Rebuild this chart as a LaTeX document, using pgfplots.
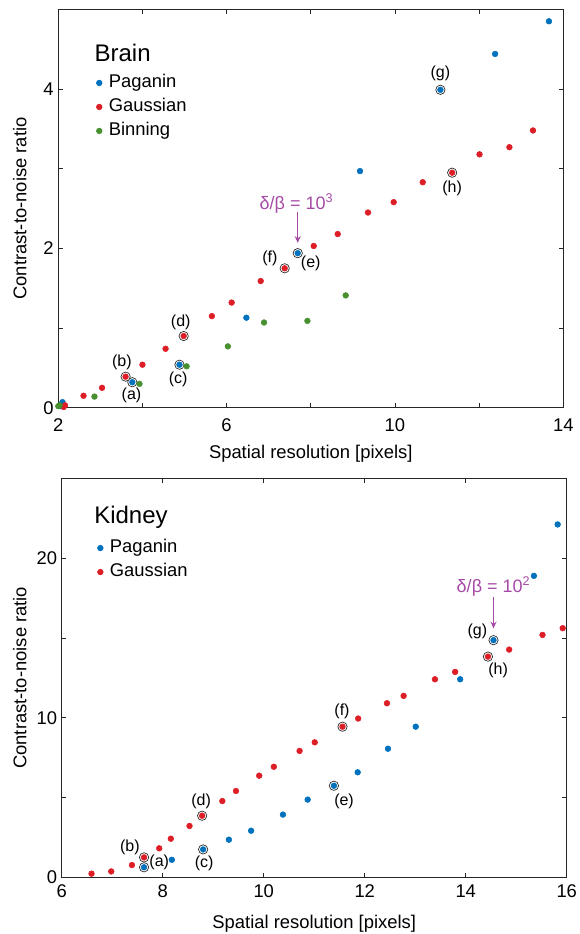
\documentclass[border=0pt]{standalone}
\usepackage{pgfplots}
\pgfplotsset{compat=1.18}
\usepackage{pgfplotstable}
\usepackage{fontspec}
\setmainfont{Liberation Sans}
\usetikzlibrary{arrows.meta}

\definecolor{cblue}{RGB}{0,114,189}
\definecolor{cred}{RGB}{222,30,38}
\definecolor{cgreen}{RGB}{72,145,48}
\definecolor{cpurple}{RGB}{166,74,166}
\definecolor{axgray}{RGB}{38,38,38}

% brain data
\pgfplotstableread{
x y
2.06 0.02
2.08 0.04
2.10 0.07
3.76 0.32
4.88 0.54
6.47 1.13
7.69 1.94
9.17 2.97
11.08 3.99
12.38 4.44
13.66 4.85
}\brainPag
\pgfplotstableread{
x y
2.13 0.01
2.16 0.03
2.60 0.15
3.04 0.25
3.60 0.39
4.00 0.54
4.55 0.74
4.98 0.90
5.65 1.15
6.12 1.32
6.81 1.59
7.38 1.75
8.07 2.03
8.64 2.18
9.36 2.45
9.97 2.58
10.66 2.83
11.36 2.95
12.01 3.18
12.72 3.27
13.28 3.48
}\brainGau
\pgfplotstableread{
x y
2.00 0.02
2.03 0.03
2.86 0.14
3.93 0.30
5.05 0.52
6.03 0.77
6.89 1.07
7.92 1.09
8.83 1.41
}\brainBin
\pgfplotstableread{
x y
3.76 0.32
3.60 0.39
4.88 0.54
4.98 0.90
7.69 1.94
7.38 1.75
11.08 3.99
11.36 2.95
}\brainSel

% kidney data
\pgfplotstableread{
x y
7.63 0.63
8.18 1.10
8.80 1.75
9.31 2.36
9.75 2.92
10.38 3.93
10.87 4.87
11.39 5.74
11.86 6.58
12.46 8.06
13.01 9.44
13.89 12.41
14.55 14.86
15.35 18.89
15.82 22.11
}\kidPag
\pgfplotstableread{
x y
6.59 0.23
6.98 0.37
7.39 0.77
7.63 1.25
7.93 1.82
8.16 2.42
8.53 3.22
8.78 3.86
9.18 4.78
9.45 5.41
9.91 6.37
10.20 6.93
10.71 7.92
11.01 8.46
11.56 9.44
11.87 9.95
12.44 10.91
12.77 11.37
13.39 12.41
13.79 12.87
14.44 13.83
14.86 14.27
15.52 15.19
15.92 15.61
}\kidGau
\pgfplotstableread{
x y
7.63 0.63
7.63 1.25
8.80 1.75
8.78 3.86
11.39 5.74
11.56 9.44
14.55 14.86
14.44 13.83
}\kidSel

\pgfplotsset{
  chart/.style={
    scale only axis, width=378.75pt,
    axis line style={axgray, line width=0.6pt},
    tick style={axgray, line width=0.6pt},
    major tick length=3.5pt,
    tick align=inside,
    /pgf/number format/assume math mode=true,
    every tick label/.append style={font=\fontsize{13.8}{16}\selectfont, text=black},
    label style={font=\fontsize{13.8}{16}\selectfont},
    clip=false,
    legend cell align=left,
    legend style={draw=none, fill=none, inner sep=0pt, row sep=3pt,
      font=\fontsize{13.8}{16}\selectfont,
      nodes={text height=10pt, text depth=3pt, inner sep=1pt},
      /tikz/every odd column/.append style={column sep=4pt}},
    legend image code/.code={\draw[mark repeat=2,mark phase=2,##1] plot coordinates {(0cm,0cm)(0.1cm,0cm)(0.2cm,0cm)};},
  },
  dots/.style={only marks, mark=*, mark size=2.15pt},
  ring/.style={only marks, mark=*, mark size=3.5pt,
    mark options={fill=white, draw=black!85, line width=0.5pt}, forget plot},
}
\tikzset{
  lab/.style={font=\fontsize{12}{14}\selectfont, inner sep=0pt},
  note/.style={font=\fontsize{13.5}{15}\selectfont, text=cpurple, inner sep=0pt},
}

\begin{document}
\begin{tikzpicture}
\useasboundingbox (0,0) rectangle (435pt,-700.5pt);

\begin{axis}[chart, at={(43.7pt,-305.8pt)}, anchor=south west, height=298.8pt,
  xmin=2, xmax=14, ymin=0, ymax=5,
  xtick={2,4,...,14}, xticklabels={2,,6,,10,,14},
  ytick={0,1,...,5}, yticklabels={0,,2,,4,},
  xticklabel style={yshift=-4.5pt},
  xlabel={Spatial resolution [pixels]},
  ylabel={Contrast-to-noise ratio},
  xlabel style={at={(axis description cs:0.5,-0.115)}, anchor=center},
  ylabel style={at={(axis description cs:-0.076,0.5)}, anchor=center},
  legend style={at={(0.075,0.841)}, anchor=north west},
]
\addplot[ring] table {\brainSel};
\addplot[dots, cblue] table {\brainPag};
\addplot[dots, cred] table {\brainGau};
\addplot[dots, cgreen] table {\brainBin};
\legend{Paganin, Gaussian, Binning}
\node[anchor=base west, inner sep=0pt, font=\fontsize{18}{21}\selectfont]
  at (rel axis cs:0.0715,0.8685) {Brain};
\node[lab] at (axis cs:3.74,0.15) {(a)};
\node[lab] at (axis cs:3.51,0.565) {(b)};
\node[lab] at (axis cs:4.85,0.35) {(c)};
\node[lab] at (axis cs:4.91,1.07) {(d)};
\node[lab] at (axis cs:8.0,1.81) {(e)};
\node[lab] at (axis cs:7.03,1.87) {(f)};
\node[lab] at (axis cs:11.08,4.2) {(g)};
\node[lab] at (axis cs:11.36,2.75) {(h)};
\node[note] at (axis cs:7.66,2.56) {δ/β = 10\textsuperscript{3}};
\draw[cpurple, line width=1pt, -{Stealth[length=5pt,width=4.5pt]}]
  (axis cs:7.69,2.46) -- (axis cs:7.69,2.07);
\end{axis}

\begin{axis}[chart, at={(46.3pt,-658pt)}, anchor=south west, height=299.25pt,
  xmin=6, xmax=16, ymin=0, ymax=25,
  xtick={6,8,...,16},
  ytick={0,5,...,25}, yticklabels={0,,10,,20,},
  xticklabel style={yshift=-2pt},
  xlabel={Spatial resolution [pixels]},
  ylabel={Contrast-to-noise ratio},
  xlabel style={at={(axis description cs:0.5,-0.117)}, anchor=center},
  ylabel style={at={(axis description cs:-0.083,0.5)}, anchor=center},
  legend style={at={(0.0703,0.851)}, anchor=north west},
]
\addplot[ring] table {\kidSel};
\addplot[dots, cblue] table {\kidPag};
\addplot[dots, cred] table {\kidGau};
\legend{Paganin, Gaussian}
\node[anchor=base west, inner sep=0pt, font=\fontsize{18}{21}\selectfont]
  at (rel axis cs:0.064,0.888) {Kidney};
\node[lab] at (axis cs:7.93,0.92) {(a)};
\node[lab] at (axis cs:7.35,1.86) {(b)};
\node[lab] at (axis cs:8.82,0.88) {(c)};
\node[lab] at (axis cs:8.76,4.74) {(d)};
\node[lab] at (axis cs:11.59,4.74) {(e)};
\node[lab] at (axis cs:11.55,10.38) {(f)};
\node[lab] at (axis cs:14.23,15.44) {(g)};
\node[lab] at (axis cs:14.64,13.0) {(h)};
\node[note] at (axis cs:14.55,18.22) {δ/β = 10\textsuperscript{2}};
\draw[cpurple, line width=1pt, -{Stealth[length=5pt,width=4.5pt]}]
  (axis cs:14.55,17.59) -- (axis cs:14.55,15.6);
\end{axis}
\end{tikzpicture}
\end{document}
